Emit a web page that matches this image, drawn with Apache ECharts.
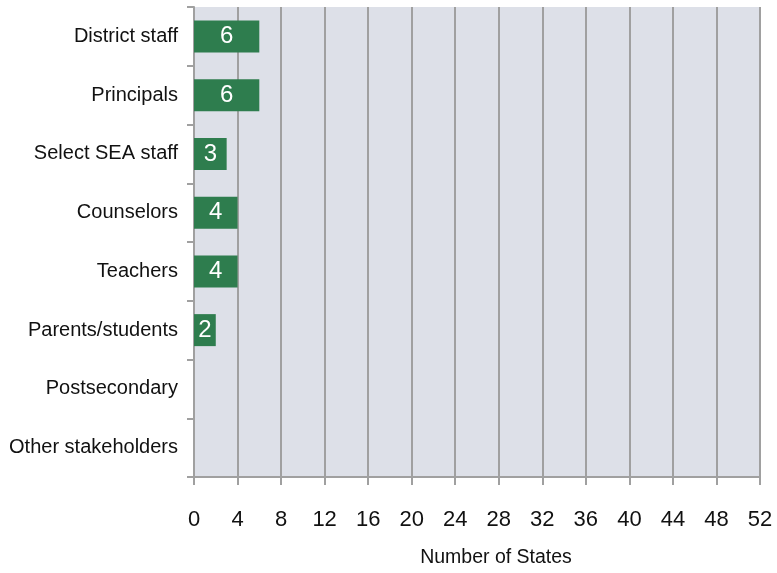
<!DOCTYPE html>
<html><head><meta charset="utf-8">
<script src="https://cdn.jsdelivr.net/npm/echarts@6/dist/echarts.min.js"></script>
<style>html,body{margin:0;padding:0;background:#fff}#c{width:777px;height:573px}</style>
</head><body><div id="c"></div>
<script>
const categories = ["District staff","Principals","Select SEA staff","Counselors","Teachers","Parents/students","Postsecondary","Other stakeholders"];
const values = [6,6,3,4,4,2,null,null];
const xTicks = {min:0,max:52,interval:4};
const FONT = '"Liberation Sans Narrow","Arial Narrow","Liberation Sans",sans-serif';
const chart = echarts.init(document.getElementById('c'));
chart.setOption({
  animation:false,
  grid:{left:194,right:17,top:7,bottom:96,backgroundColor:'#dde0e8',show:true,borderWidth:0},
  xAxis:{type:'value',min:xTicks.min,max:xTicks.max,interval:xTicks.interval,
    axisLine:{show:true,lineStyle:{color:'#a0a0a0',width:2}},
    axisTick:{show:true,length:8,lineStyle:{color:'#a0a0a0',width:2}},
    axisLabel:{fontFamily:FONT,fontSize:22,color:'#111',margin:32},
    splitLine:{show:true,lineStyle:{color:'#a0a0a0',width:2}}},
  yAxis:{type:'category',data:categories,inverse:true,
    axisLine:{show:true,lineStyle:{color:'#a0a0a0',width:2}},
    axisTick:{show:true,length:7,lineStyle:{color:'#a0a0a0',width:2}},
    axisLabel:{fontFamily:FONT,fontSize:20,color:'#111',margin:16}},
  series:[{type:'bar',data:values,barWidth:32,itemStyle:{color:'#2e7d4e'},
    label:{show:true,position:'inside',color:'#fff',fontFamily:FONT,fontSize:24}}],
  graphic:[{type:'text',x:496,y:558,style:{text:'Number of States',fontFamily:FONT,fontSize:19.5,fill:'#111',align:'center',verticalAlign:'middle'}}]
});
</script></body></html>
